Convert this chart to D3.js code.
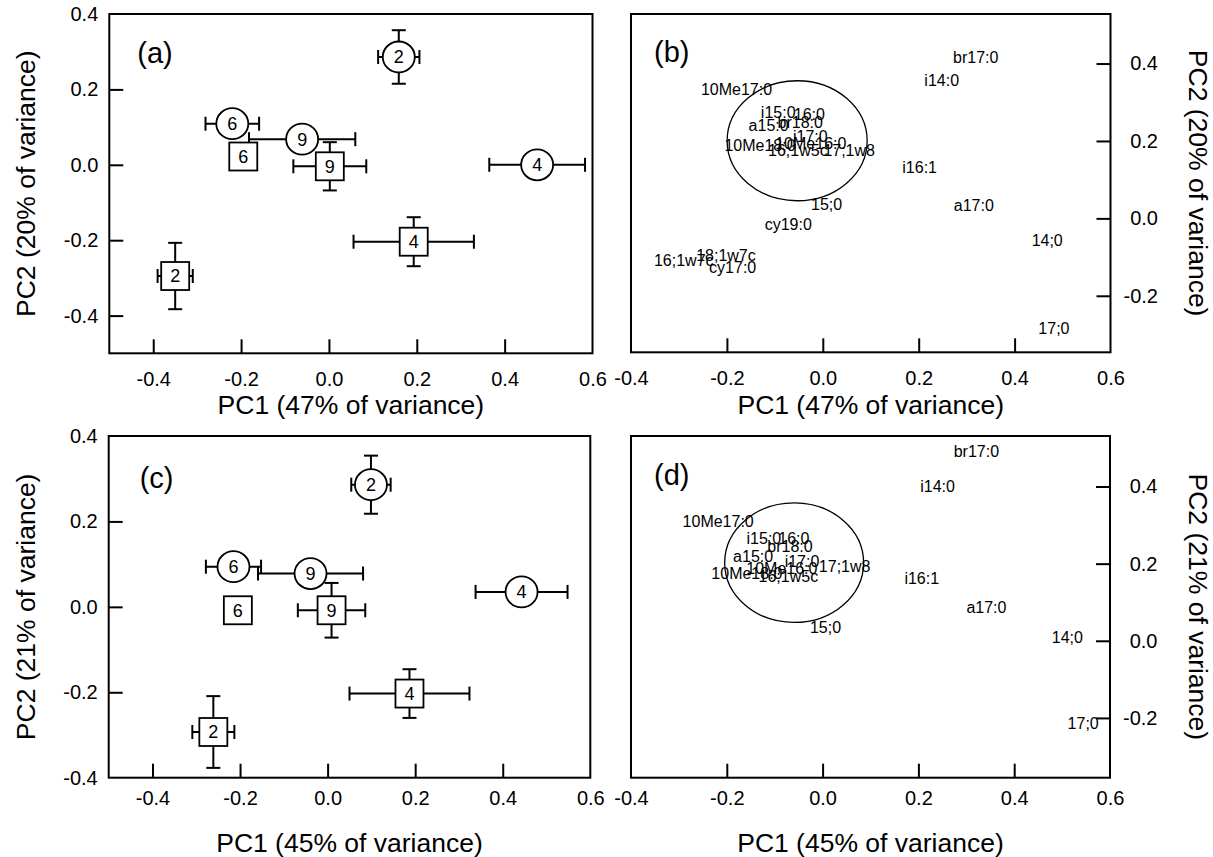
<!DOCTYPE html>
<html>
<head>
<meta charset="utf-8">
<script src="https://cdnjs.cloudflare.com/ajax/libs/d3/7.8.5/d3.min.js"></script>
<style>
body { margin: 0; background: #fff; }
text { font-family: "Liberation Sans", Arial, Helvetica, sans-serif; fill: #000; }
</style>
</head>
<body>
<script>
var width = 1213;
var height = 857;

// site/time groups drawn as circles and squares (same order in (a) and (c))
var groupLabels = ["2", "6", "9", "4", "2", "6", "9", "4"];
var groupShapes = ["circle", "circle", "circle", "circle", "square", "square", "square", "square"];

// panel (a) scores, PC1 47% / PC2 20%
var pc1A  = [0.159, -0.220, -0.061, 0.474, -0.350, -0.195, 0.002, 0.193];
var pc2A  = [0.286,  0.109,  0.068, 0.000, -0.295,  0.022, -0.004, -0.204];
var errXA = [0.047,  0.061,  0.121, 0.109,  0.040,  0,      0.083,  0.137];
var errYA = [0.071,  0,      0,     0,      0.088,  0,      0.064,  0.065];

// panel (c) scores, PC1 45% / PC2 21%
var pc1C  = [0.099, -0.215, -0.039, 0.443, -0.261, -0.205, 0.009, 0.187];
var pc2C  = [0.286,  0.094,  0.078, 0.035, -0.293, -0.008, -0.008, -0.203];
var errXC = [0.045,  0.063,  0.120, 0.105,  0.048,  0,      0.077,  0.137];
var errYC = [0.068,  0,      0,     0,      0.084,  0,      0.064,  0.057];

// panel (b) loadings
var fattyB = ["br17:0", "i14:0", "10Me17:0", "i15:0", "16:0", "br18:0", "a15:0", "i17:0",
              "10Me16:0", "10Me18:0", "16;1w5c", "17;1w8", "i16:1", "15;0", "a17:0", "cy19:0",
              "14;0", "18;1w7c", "16;1w7c", "cy17:0", "17;0"];
var load1B = [0.319, 0.248, -0.180, -0.093, -0.028, -0.047, -0.113, -0.026,
              -0.025, -0.131, -0.052, 0.055, 0.202, 0.008, 0.315, -0.072,
              0.468, -0.202, -0.290, -0.188, 0.482];
var load2B = [0.416, 0.357, 0.332, 0.275, 0.269, 0.247, 0.239, 0.213,
              0.194, 0.188, 0.175, 0.176, 0.132, 0.037, 0.034, -0.015,
              -0.056, -0.095, -0.108, -0.127, -0.284];

// panel (d) loadings
var fattyD = ["br17:0", "i14:0", "10Me17:0", "i15:0", "16:0", "br18:0", "a15:0", "i17:0",
              "17;1w8", "10Me16:0", "10Me18:0", "16;1w5c", "i16:1", "a17:0", "15;0", "14;0", "17;0"];
var load1D = [0.321, 0.240, -0.218, -0.1225, -0.060, -0.068, -0.145, -0.043,
              0.046, -0.085, -0.158, -0.0715, 0.207, 0.342, 0.006, 0.511, 0.544];
var load2D = [0.492, 0.401, 0.310, 0.265, 0.265, 0.2435, 0.218, 0.205,
              0.192, 0.188, 0.176, 0.166, 0.162, 0.0855, 0.036, 0.010, -0.214];

// ellipse round the crowded loadings: centre x, centre y, radius x, radius y
var ringB = [-0.0535, 0.2005, 0.146, 0.155];
var ringD = [-0.0594, 0.2026, 0.145, 0.155];

// ticks
var scoreXTicks  = [-0.4, -0.2, 0.0, 0.2, 0.4];
var scoreXLabels = [-0.4, -0.2, 0.0, 0.2, 0.4, 0.6];
var scoreYLabels = [0.4, 0.2, 0.0, -0.2, -0.4];
var loadXTicks   = [-0.2, 0.0, 0.2, 0.4];
var loadXLabels  = [-0.4, -0.2, 0.0, 0.2, 0.4, 0.6];
var loadYTicks   = [0.4, 0.2, 0.0, -0.2];

var fmt = function(d) { return d.toFixed(1); };

var svg = d3.select("body")
			.append("svg")
			.attr("width", width)
			.attr("height", height);

var panels = [
	{ tag: "(a)", left: 109.3, right: 592.5, top: 14, bottom: 353.3, xDomain: [-0.5, 0.6], yDomain: [-0.5, 0.4],
	  xTicks: scoreXTicks, xLabels: scoreXLabels, yTicks: [0.2, 0.0, -0.2, -0.4], yLabels: scoreYLabels,
	  side: "left", xTitle: "PC1 (47% of variance)", yTitle: "PC2 (20% of variance)", pad: 18.5, titleY: 414, tagAt: [28, 49] },
	{ tag: "(b)", left: 631, right: 1110.5, top: 14, bottom: 352.3, xDomain: [-0.4, 0.6], yDomain: [-0.346, 0.528],
	  xTicks: loadXTicks, xLabels: loadXLabels, yTicks: loadYTicks, yLabels: loadYTicks,
	  side: "right", xTitle: "PC1 (47% of variance)", yTitle: "PC2 (20% of variance)", pad: 18.5, titleY: 414, tagAt: [23, 48] },
	{ tag: "(c)", left: 108.7, right: 590.3, top: 436, bottom: 777.7, xDomain: [-0.5, 0.6], yDomain: [-0.4, 0.4],
	  xTicks: scoreXTicks, xLabels: scoreXLabels, yTicks: [0.2, 0.0, -0.2], yLabels: scoreYLabels,
	  side: "left", xTitle: "PC1 (45% of variance)", yTitle: "PC2 (21% of variance)", pad: 13, titleY: 852, tagAt: [31, 52] },
	{ tag: "(d)", left: 631, right: 1110, top: 436, bottom: 777.7, xDomain: [-0.4, 0.6], yDomain: [-0.355, 0.531],
	  xTicks: loadXTicks, xLabels: loadXLabels, yTicks: loadYTicks, yLabels: loadYTicks,
	  side: "right", xTitle: "PC1 (45% of variance)", yTitle: "PC2 (21% of variance)", pad: 13, titleY: 852, tagAt: [23, 49] }
];

function drawPanel(p) {
	var x = d3.scaleLinear().domain(p.xDomain).range([p.left, p.right]);
	var y = d3.scaleLinear().domain(p.yDomain).range([p.bottom, p.top]);
	var g = svg.append("g");

	// inward tick marks on the bottom
	g.append("g")
		.attr("transform", "translate(0," + p.bottom + ")")
		.call(d3.axisBottom(x).tickValues(p.xTicks).tickSize(-14).tickFormat(""))
		.call(function(a) { a.select(".domain").remove(); a.selectAll("line").attr("stroke-width", 2); });

	// tick labels on the bottom
	g.append("g")
		.attr("transform", "translate(0," + p.bottom + ")")
		.call(d3.axisBottom(x).tickValues(p.xLabels).tickSize(0).tickPadding(p.pad).tickFormat(fmt))
		.attr("font-size", 20)
		.call(function(a) { a.select(".domain").remove(); });

	if (p.side == "left") {
		g.append("g")
			.attr("transform", "translate(" + p.left + ",0)")
			.call(d3.axisLeft(y).tickValues(p.yTicks).tickSize(-14).tickFormat(""))
			.call(function(a) { a.select(".domain").remove(); a.selectAll("line").attr("stroke-width", 2); });
		g.append("g")
			.attr("transform", "translate(" + p.left + ",0)")
			.call(d3.axisLeft(y).tickValues(p.yLabels).tickSize(0).tickPadding(11).tickFormat(fmt))
			.attr("font-size", 20)
			.call(function(a) { a.select(".domain").remove(); });
		g.append("text")
			.attr("transform", "translate(25.5," + (p.top + p.bottom) / 2 + ") rotate(-90)")
			.attr("text-anchor", "middle")
			.attr("dy", "0.35em")
			.style("font-size", "26.5px")
			.text(p.yTitle);
	} else {
		g.append("g")
			.attr("transform", "translate(" + p.right + ",0)")
			.call(d3.axisRight(y).tickValues(p.yTicks).tickSize(-14).tickFormat(""))
			.call(function(a) { a.select(".domain").remove(); a.selectAll("line").attr("stroke-width", 2); });
		g.append("g")
			.attr("transform", "translate(" + p.right + ",0)")
			.call(d3.axisRight(y).tickValues(p.yLabels).tickSize(0).tickFormat(fmt))
			.attr("font-size", 20)
			.call(function(a) {
				a.select(".domain").remove();
				a.selectAll("text").attr("text-anchor", "end").attr("x", 47.5);
			});
		g.append("text")
			.attr("transform", "translate(1198," + (p.top + p.bottom) / 2 + ") rotate(90)")
			.attr("text-anchor", "middle")
			.attr("dy", "0.35em")
			.style("font-size", "26.5px")
			.text(p.yTitle);
	}

	g.append("text")
		.attr("x", (p.left + p.right) / 2)
		.attr("y", p.titleY)
		.attr("text-anchor", "middle")
		.style("font-size", "26.5px")
		.text(p.xTitle);

	g.append("rect")
		.attr("x", p.left)
		.attr("y", p.top)
		.attr("width", p.right - p.left)
		.attr("height", p.bottom - p.top)
		.attr("fill", "none")
		.attr("stroke", "#000")
		.attr("stroke-width", 2);

	g.append("text")
		.attr("x", p.left + p.tagAt[0])
		.attr("y", p.top + p.tagAt[1])
		.style("font-size", "29px")
		.text(p.tag);

	return { g: g, x: x, y: y };
}

function drawScores(s, xs, ys, ex, ey) {
	var cap = 7;
	var rows = xs.map(function(d, i) {
		return { x: d, y: ys[i], ex: ex[i], ey: ey[i], label: groupLabels[i], shape: groupShapes[i] };
	});

	var bars = s.g.append("g").attr("stroke", "#000").attr("stroke-width", 2);
	rows.forEach(function(d) {
		var cx = s.x(d.x), cy = s.y(d.y);
		if (d.ex > 0) {
			var x0 = s.x(d.x - d.ex), x1 = s.x(d.x + d.ex);
			bars.append("line").attr("x1", x0).attr("x2", x1).attr("y1", cy).attr("y2", cy);
			bars.append("line").attr("x1", x0).attr("x2", x0).attr("y1", cy - cap).attr("y2", cy + cap);
			bars.append("line").attr("x1", x1).attr("x2", x1).attr("y1", cy - cap).attr("y2", cy + cap);
		}
		if (d.ey > 0) {
			var y0 = s.y(d.y - d.ey), y1 = s.y(d.y + d.ey);
			bars.append("line").attr("x1", cx).attr("x2", cx).attr("y1", y0).attr("y2", y1);
			bars.append("line").attr("x1", cx - cap).attr("x2", cx + cap).attr("y1", y0).attr("y2", y0);
			bars.append("line").attr("x1", cx - cap).attr("x2", cx + cap).attr("y1", y1).attr("y2", y1);
		}
	});

	var marks = s.g.append("g")
		.selectAll("g")
		.data(rows)
		.enter()
		.append("g")
		.attr("transform", function(d) { return "translate(" + s.x(d.x) + "," + s.y(d.y) + ")"; });

	marks.filter(function(d) { return d.shape == "circle"; })
		.append("ellipse")
		.attr("rx", 16)
		.attr("ry", 15.5)
		.attr("fill", "#fff")
		.attr("stroke", "#000")
		.attr("stroke-width", 1.8);

	marks.filter(function(d) { return d.shape == "square"; })
		.append("rect")
		.attr("x", -14)
		.attr("y", -14)
		.attr("width", 28)
		.attr("height", 28)
		.attr("fill", "#fff")
		.attr("stroke", "#000")
		.attr("stroke-width", 1.8);

	marks.append("text")
		.attr("text-anchor", "middle")
		.attr("dy", "0.36em")
		.style("font-size", "18px")
		.text(function(d) { return d.label; });
}

function drawLoadings(s, names, xs, ys, ring) {
	s.g.append("ellipse")
		.attr("cx", s.x(ring[0]))
		.attr("cy", s.y(ring[1]))
		.attr("rx", s.x(ring[0] + ring[2]) - s.x(ring[0]))
		.attr("ry", s.y(ring[1]) - s.y(ring[1] + ring[3]))
		.attr("fill", "none")
		.attr("stroke", "#000")
		.attr("stroke-width", 1.3);

	s.g.append("g")
		.selectAll("text")
		.data(names)
		.enter()
		.append("text")
		.attr("x", function(d, i) { return s.x(xs[i]); })
		.attr("y", function(d, i) { return s.y(ys[i]); })
		.attr("dy", "0.35em")
		.attr("text-anchor", "middle")
		.style("font-size", "16px")
		.text(function(d) { return d; });
}

var pa = drawPanel(panels[0]);
var pb = drawPanel(panels[1]);
var pc = drawPanel(panels[2]);
var pd = drawPanel(panels[3]);

drawScores(pa, pc1A, pc2A, errXA, errYA);
drawScores(pc, pc1C, pc2C, errXC, errYC);
drawLoadings(pb, fattyB, load1B, load2B, ringB);
drawLoadings(pd, fattyD, load1D, load2D, ringD);
</script>
</body>
</html>
